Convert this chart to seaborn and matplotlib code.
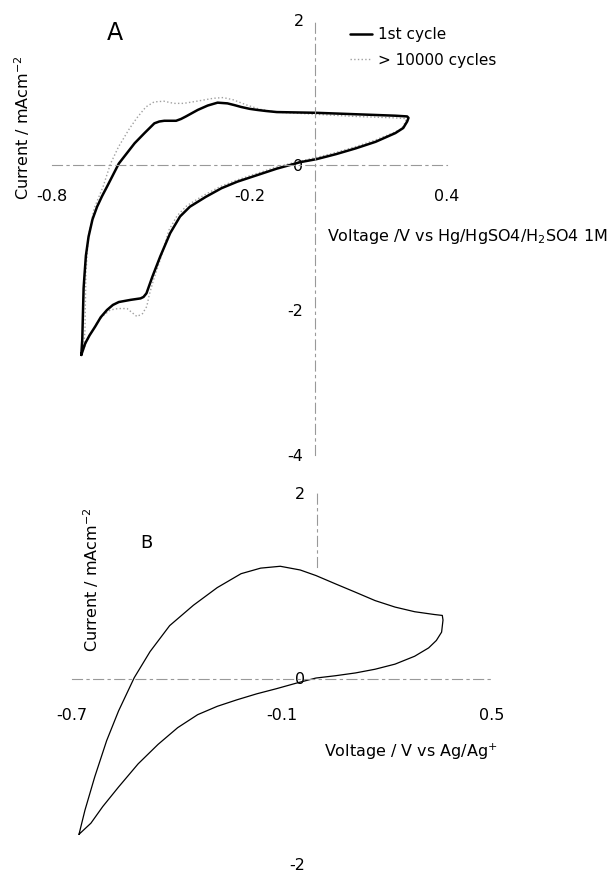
import numpy as np
import pandas as pd
import matplotlib
matplotlib.use('Agg')
import matplotlib.pyplot as plt
import seaborn as sns

# Panel A - 1st cycle (loop starting at the cathodic vertex)
a1_v = [-0.711, -0.708, -0.704, -0.701, -0.697, -0.689, -0.677, -0.663, -0.648, -0.633, -0.615,
        -0.597, -0.573, -0.549, -0.519, -0.489, -0.474, -0.459, -0.441, -0.423, -0.408, -0.393,
        -0.375, -0.357, -0.327, -0.297, -0.267, -0.245, -0.225, -0.200, -0.177, -0.150, -0.117,
        0.003, 0.123, 0.243, 0.279, 0.283, 0.279, 0.267, 0.243, 0.213, 0.183, 0.123, 0.063,
        0.003, -0.045, -0.117, -0.177, -0.237, -0.285, -0.333, -0.381, -0.411, -0.441, -0.471,
        -0.495, -0.513, -0.522, -0.531, -0.561, -0.597, -0.615, -0.633, -0.652, -0.669, -0.686,
        -0.699, -0.711]
a1_i = [-2.62, -2.40, -1.70, -1.50, -1.25, -0.99, -0.75, -0.575, -0.43, -0.30, -0.14,
        0.02, 0.16, 0.30, 0.44, 0.575, 0.60, 0.61, 0.61, 0.61, 0.635, 0.67,
        0.715, 0.76, 0.82, 0.86, 0.85, 0.825, 0.80, 0.775, 0.76, 0.745, 0.73,
        0.72, 0.70, 0.68, 0.67, 0.65, 0.60, 0.51, 0.44, 0.38, 0.32, 0.23, 0.15,
        0.08, 0.04, -0.05, -0.14, -0.23, -0.32, -0.44, -0.575, -0.71, -0.94, -1.26,
        -1.54, -1.77, -1.82, -1.84, -1.86, -1.89, -1.93, -2.0, -2.10, -2.23, -2.35,
        -2.46, -2.62]

# Panel A - after > 10000 cycles
a2_v = [-0.705, -0.700, -0.697, -0.690, -0.672, -0.645, -0.622, -0.598, -0.565, -0.542, -0.515,
        -0.490, -0.460, -0.430, -0.400, -0.360, -0.310, -0.280, -0.250, -0.210, -0.170, -0.120,
        0.0, 0.12, 0.24, 0.275, 0.275, 0.262, 0.24, 0.18, 0.12, 0.06, 0.0, -0.05, -0.12, -0.18,
        -0.24, -0.29, -0.34, -0.39, -0.42, -0.445, -0.462, -0.478, -0.492, -0.505, -0.512,
        -0.525, -0.542, -0.572, -0.600, -0.623, -0.645, -0.664, -0.690, -0.705]
a2_i = [-2.55, -2.30, -1.50, -1.00, -0.60, -0.30, 0.02, 0.25, 0.50, 0.65, 0.80,
        0.87, 0.88, 0.85, 0.85, 0.88, 0.92, 0.93, 0.90, 0.83, 0.77, 0.73,
        0.70, 0.67, 0.65, 0.64, 0.60, 0.50, 0.45, 0.34, 0.25, 0.17, 0.10, 0.05, -0.03, -0.12,
        -0.21, -0.30, -0.42, -0.56, -0.70, -0.90, -1.17, -1.40, -1.59, -1.80, -1.95,
        -2.05, -2.09, -1.98, -1.98, -2.00, -2.08, -2.18, -2.38, -2.55]

# Panel B
b_v = [-0.680, -0.663, -0.635, -0.601, -0.567, -0.522, -0.477, -0.421, -0.353, -0.285, -0.217,
       -0.161, -0.105, -0.048, -0.003, 0.053, 0.110, 0.166, 0.223, 0.279, 0.335, 0.358, 0.360,
       0.356, 0.341, 0.319, 0.279, 0.223, 0.166, 0.110, 0.053, -0.003, -0.059, -0.116, -0.172,
       -0.229, -0.285, -0.341, -0.398, -0.454, -0.511, -0.567, -0.612, -0.646, -0.680]
b_i = [-1.68, -1.42, -1.06, -0.67, -0.35, 0.01, 0.29, 0.57, 0.79, 0.98, 1.13,
       1.19, 1.21, 1.17, 1.11, 1.02, 0.93, 0.84, 0.77, 0.72, 0.69, 0.68, 0.63,
       0.50, 0.41, 0.33, 0.24, 0.155, 0.10, 0.06, 0.03, 0.005, -0.05, -0.11, -0.165,
       -0.23, -0.30, -0.39, -0.53, -0.71, -0.92, -1.17, -1.38, -1.56, -1.68]

a_xticks = [-0.8, -0.2, 0.4]
a_yticks = [2, 0, -2, -4]
b_xticks = [-0.7, -0.1, 0.5]
b_yticks = [2, 0, -2]

sns.set_style('white')
plt.rcParams['font.family'] = ['DejaVu Sans']
plt.rcParams['axes.unicode_minus'] = False
plt.rcParams['text.color'] = 'black'
plt.rcParams['xtick.color'] = 'black'
plt.rcParams['ytick.color'] = 'black'

W, H = 616, 874
fig = plt.figure(figsize=(W / 100, H / 100), dpi=100)

def px_axes(x0, x1, y0, y1):
    # x0,x1 left/right px ; y0 top px, y1 bottom px
    return fig.add_axes([x0 / W, 1 - y1 / H, (x1 - x0) / W, (y1 - y0) / H])

axA = px_axes(52, 447, 20, 455)
axB = px_axes(72, 492, 493, 864)

dash = (0, (9, 4, 2, 4))
for ax in (axA, axB):
    ax.patch.set_alpha(0)
    for s in ('top', 'right'):
        ax.spines[s].set_visible(False)
    for s in ('left', 'bottom'):
        ax.spines[s].set_position(('data', 0))
        ax.spines[s].set_linestyle(dash)
        ax.spines[s].set_color('#999999')
        ax.spines[s].set_linewidth(0.8)
    ax.tick_params(axis='y', direction='inout', length=5, width=0.8, color='#999999',
                   labelcolor='black', labelsize=11.5, pad=6)

# Panel A
dfa1 = pd.DataFrame({'v': a1_v, 'i': a1_i})
dfa2 = pd.DataFrame({'v': a2_v, 'i': a2_i})
sns.lineplot(data=dfa2, x='v', y='i', sort=False, estimator=None, ax=axA,
             color='#a0a0a0', linewidth=1.0, linestyle=':', label='> 10000 cycles')
sns.lineplot(data=dfa1, x='v', y='i', sort=False, estimator=None, ax=axA,
             color='black', linewidth=1.8, label='1st cycle')
axA.set_xlim(-0.8, 0.4)
axA.set_ylim(-4, 2)
axA.set_xticks(a_xticks)
axA.set_xticklabels([f'{t:g}' for t in a_xticks])
axA.set_yticks(a_yticks)
axA.set_yticklabels([str(t) for t in a_yticks])
axA.tick_params(axis='x', length=0, labelsize=11.5, pad=17, labelcolor='black')
axA.set_xlabel('')
axA.set_ylabel('')
h, l = axA.get_legend_handles_labels()
axA.legend(h[::-1], l[::-1], loc='upper left', bbox_to_anchor=(350 / W, 1 - 27 / H),
           bbox_transform=fig.transFigure, frameon=False, fontsize=11,
           handlelength=1.45, handletextpad=0.4, labelspacing=0.7,
           borderpad=0, borderaxespad=0)

# Panel B
dfb = pd.DataFrame({'v': b_v, 'i': b_i})
sns.lineplot(data=dfb, x='v', y='i', sort=False, estimator=None, ax=axB,
             color='black', linewidth=0.9)
axB.set_xlim(-0.7, 0.5)
axB.set_ylim(-2, 2)
axB.set_xticks(b_xticks)
axB.set_xticklabels([f'{t:g}' for t in b_xticks])
axB.set_yticks(b_yticks)
axB.set_yticklabels([str(t) for t in b_yticks])
axB.tick_params(axis='x', length=0, labelsize=11.5, pad=21, labelcolor='black')
axB.spines['left'].set_bounds(1.2, 2)
axB.set_xlabel('')
axB.set_ylabel('')

# labels
fig.text(115 / W, 1 - 33 / H, 'A', fontsize=17, ha='center', va='center')
fig.text(146 / W, 1 - 543 / H, 'B', fontsize=13, ha='center', va='center')
fig.text(327 / W, 1 - 236 / H, 'Voltage /V vs Hg/HgSO4/H$_2$SO4 1M', fontsize=11.5,
         ha='left', va='center')
fig.text(324 / W, 1 - 752 / H, 'Voltage / V vs Ag/Ag$^{+}$', fontsize=11.5,
         ha='left', va='center')
fig.text(22 / W, 1 - 128 / H, 'Current / mAcm$^{-2}$', fontsize=11.5, rotation=90,
         ha='center', va='center')
fig.text(91 / W, 1 - 580 / H, 'Current / mAcm$^{-2}$', fontsize=11.5, rotation=90,
         ha='center', va='center')

fig.savefig('out.png', dpi=100)
